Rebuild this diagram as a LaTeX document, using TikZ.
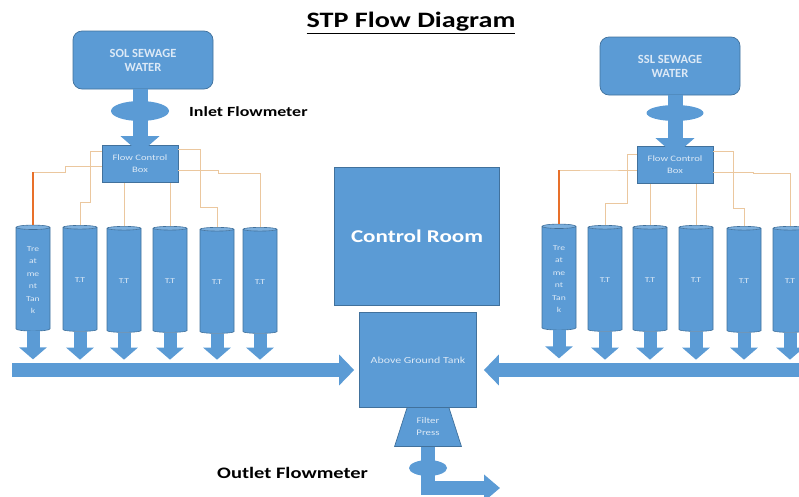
\documentclass[tikz,border=0pt]{standalone}
\usepackage{fontspec}
\setmainfont{Carlito}
\newfontfamily\widefont[FakeStretch=1.28]{Carlito}
\usetikzlibrary{shapes.geometric,arrows.meta}
\definecolor{stpblue}{HTML}{5B9BD5}
\definecolor{stpedge}{HTML}{41719C}
\definecolor{wiretan}{HTML}{EBC79E}
\definecolor{wireorange}{HTML}{E8702A}
\definecolor{paletext}{HTML}{DCE9F6}

\begin{document}
\begin{tikzpicture}[x=1pt,y=-1pt]
    \useasboundingbox (0,0) rectangle (799,496);
    \tikzset{box/.style = {draw=stpedge, fill=stpblue, line width=0.7pt}}
    \tikzset{source/.style = {box, rounded corners=9pt, minimum width=140pt, minimum height=58pt, align=center, text=paletext, font=\bfseries\fontsize{12.5}{14}\selectfont}}
    \tikzset{ctrlbox/.style = {box, minimum width=76pt, minimum height=37pt, align=center, text=paletext, font=\widefont\fontsize{8.3}{12}\selectfont}}
    \tikzset{tank/.style = {cylinder, shape border rotate=90, aspect=0.22, draw=stpedge, line width=0.6pt, cylinder uses custom fill, cylinder body fill=stpblue, cylinder end fill=stpblue!80!white, minimum width=34pt, minimum height=106pt, text=paletext, align=center, font=\widefont\fontsize{7.5}{12.5}\selectfont}}
    \tikzset{meter/.style = {ellipse, fill=stpblue, inner sep=0pt}}
    \tikzset{label/.style = {font=\widefont\bfseries\fontsize{14}{17}\selectfont, anchor=west, inner sep=0pt}}
    \tikzset{wire/.style = {draw=wiretan, line width=0.6pt}}
    \tikzset{hotwire/.style = {draw=wireorange, line width=1.2pt}}
    \tikzset{feed/.style = {draw=stpblue, line width=15pt, -{Triangle[width=38pt,length=17pt]}}}
    \tikzset{drop/.style = {draw=stpblue, line width=13pt, -{Triangle[width=27pt,length=12pt]}}}
    \tikzset{main/.style = {draw=stpblue, line width=14pt, -{Triangle[width=30pt,length=15pt]}}}

    \node[font=\widefont\bfseries\fontsize{22}{26}\selectfont] (title) at (411,23) {\underline{STP Flow Diagram}};

    % left side
    \node[source] (SOL) at (143,60) {SOL SEWAGE\\WATER};
    \node[ctrlbox] (FCBL) at (140,164) {Flow Control\\Box};
    \node[tank] (T1) at (33,280) {Tre\\at\\me\\nt\\Tan\\k};
    \node[tank] (T2) at (80,280) {T.T};
    \node[tank] (T3) at (124,281) {T.T};
    \node[tank] (T4) at (170,281) {T.T};
    \node[tank] (T5) at (217,282) {T.T};
    \node[tank] (T6) at (260,282) {T.T};

    % right side
    \node[source] (SSL) at (670,66) {SSL SEWAGE\\WATER};
    \node[ctrlbox] (FCBR) at (675,165) {Flow Control\\Box};
    \node[tank] (R1) at (559,279) {Tre\\at\\me\\nt\\Tan\\k};
    \node[tank] (R2) at (605,280) {T.T};
    \node[tank] (R3) at (650,280) {T.T};
    \node[tank] (R4) at (696,280) {T.T};
    \node[tank] (R5) at (744,281) {T.T};
    \node[tank] (R6) at (790,281) {T.T};

    % middle
    \node[box, minimum width=165pt, minimum height=138pt, text=white, font=\widefont\bfseries\fontsize{18}{22}\selectfont] (CR) at (417,236) {Control Room};
    \node[box, minimum width=117pt, minimum height=95pt, text=paletext, font=\widefont\fontsize{9.3}{11}\selectfont] (AGT) at (418,360) {Above Ground Tank};
    \node[box, trapezium, trapezium stretches=true, trapezium angle=70, minimum width=67pt, minimum height=39pt, align=center, text=paletext, font=\widefont\fontsize{8.5}{12}\selectfont] (FP) at (428,427) {Filter\\Press};

    \coordinate (inL) at (12,370);
    \coordinate (inR) at (799,370);
    \coordinate (out) at (500,488);

    %flows
    \draw[feed] (FCBL.north |- SOL.south) -- ([yshift=-8pt]FCBL.north);
    \node[meter, minimum width=58pt, minimum height=20pt] (IFM) at (140,111) {};
    \draw[feed] (FCBR.north |- SSL.south) -- ([yshift=-9pt]FCBR.north);
    \node[meter, minimum width=57pt, minimum height=16pt] (SFM) at (675,113) {};

    \draw[drop] (T1.south) -- ++(0,28);
    \draw[drop] (T2.south) -- ++(0,28);
    \draw[drop] (T3.south) -- ++(0,27);
    \draw[drop] (T4.south) -- ++(0,27);
    \draw[drop] (T5.south) -- ++(0,26);
    \draw[drop] (T6.south) -- ++(0,26);
    \draw[drop] (R1.south) -- ++(0,28);
    \draw[drop] (R2.south) -- ++(0,28);
    \draw[drop] (R3.south) -- ++(0,28);
    \draw[drop] (R4.south) -- ++(0,28);
    \draw[drop] (R5.south) -- ++(0,27);
    \draw[drop] (R6.south) -- ++(0,27);

    \draw[main, shorten >=5pt] (inL) -- (inL -| AGT.west);
    \draw[main, shorten >=7pt] (inR) -- (inR -| AGT.east);
    \draw[main, -{Triangle[width=26pt,length=16pt]}] (FP.south) |- (out);
    \node[meter, minimum width=38pt, minimum height=16pt] (OFM) at (428,468) {};

    %wires
    \draw[wire] ([yshift=-2pt]FCBL.west) -| (65,172) -| (T1.north);
    \draw[hotwire] (T1.north |- 0,172) -- (T1.north);
    \draw[wire] ([yshift=13pt]FCBL.west) -| (90,202) -| (T2.north);
    \draw[wire] (T3.north |- FCBL.south) -- (T3.north);
    \draw[wire] (T4.north |- FCBL.south) -- (T4.north);
    \draw[wire] ([yshift=15pt]FCBL.east) -| (200,207) -| (T5.north);
    \draw[wire] ([yshift=-6pt]FCBL.east) -| (218,173) -| (T6.north);
    \draw[wire] ([yshift=-5pt]FCBR.west) -| (600,170) -| (R1.north);
    \draw[hotwire] (R1.north |- 0,170) -- (R1.north);
    \draw[wire] ([yshift=11pt]FCBR.west) -| (627,203) -| (R2.north);
    \draw[wire] (R3.north |- FCBR.south) -- (R3.north);
    \draw[wire] (R4.north |- FCBR.south) -- (R4.north);
    \draw[wire] ([yshift=14pt]FCBR.east) -| (733,208) -| (R5.north);
    \draw[wire] ([yshift=-7pt]FCBR.east) -| (753,173) -| (R6.north);

    \node[label] (inlab) at (189,112) {Inlet Flowmeter};
    \node[label, font=\widefont\bfseries\fontsize{16}{18}\selectfont] (outlab) at (217,473) {Outlet Flowmeter};
\end{tikzpicture}
\end{document}
